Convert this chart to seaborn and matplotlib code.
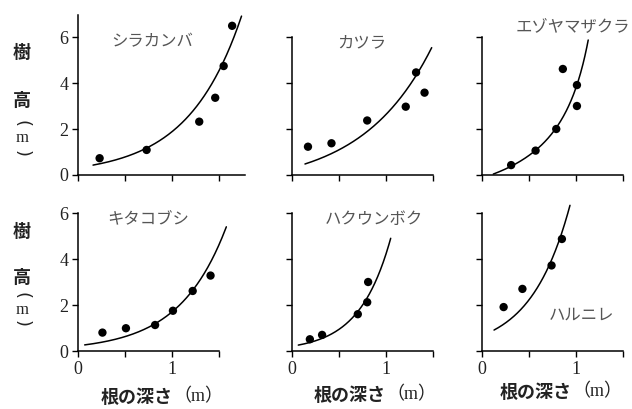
import numpy as np
import matplotlib
matplotlib.use("Agg")
import matplotlib.pyplot as plt
import seaborn as sns

# --- data: root depth (m) vs tree height (m) for six species ---
species = ["シラカンバ", "カツラ", "エゾヤマザクラ", "キタコブシ", "ハクウンボク", "ハルニレ"]

depth_shirakanba = [0.23, 0.73, 1.29, 1.46, 1.55, 1.64]
height_shirakanba = [0.73, 1.09, 2.32, 3.36, 4.74, 6.49]

depth_katsura = [0.17, 0.42, 0.80, 1.21, 1.32, 1.41]
height_katsura = [1.23, 1.38, 2.37, 2.97, 4.46, 3.58]

depth_ezoyamazakura = [0.31, 0.57, 0.79, 0.86, 1.01, 1.01]
height_ezoyamazakura = [0.43, 1.06, 2.00, 4.61, 3.91, 3.00]

depth_kitakobushi = [0.26, 0.51, 0.82, 1.01, 1.22, 1.41]
height_kitakobushi = [0.80, 0.99, 1.13, 1.75, 2.61, 3.28]

depth_hakuunboku = [0.19, 0.32, 0.70, 0.80, 0.81]
height_hakuunboku = [0.51, 0.70, 1.60, 2.12, 3.00]

depth_harunire = [0.23, 0.43, 0.74, 0.85]
height_harunire = [1.91, 2.70, 3.72, 4.87]

depths = [depth_shirakanba, depth_katsura, depth_ezoyamazakura,
          depth_kitakobushi, depth_hakuunboku, depth_harunire]
heights = [height_shirakanba, height_katsura, height_ezoyamazakura,
           height_kitakobushi, height_hakuunboku, height_harunire]

# fitted regression curves: kind, parameters, depth range
fit_kind = ["exp", "exp", "hyp", "exp", "exp", "exp"]
fit_params = [(0.325, 1.757, 0.0), (0.812, 1.35, -0.5), (2.947, 1.5, -2.096),
              (0.23, 2.0, 0.0), (0.21, 3.0, 0.0), (0.67, 2.4, 0.0)]
fit_range = [(0.16, 1.74), (0.138, 1.486), (0.12, 1.13),
             (0.071, 1.578), (0.067, 1.05), (0.128, 0.936)]

x_ticks = [0, 0.5, 1, 1.5]
x_ticklabels = ["0", "", "1", ""]
y_ticks = [0, 2, 4, 6]
y_ticklabels = ["0", "2", "4", "6"]


def fit_curve(kind, p, x):
    if kind == "exp":
        a, b, c = p
        return a * np.exp(b * x) + c
    a, k, c = p
    return a / (k - x) + c


sns.set_theme(style="ticks")
SERIF = ["Liberation Serif", "DejaVu Serif", "Noto Sans CJK JP"]
SERIF_CJK = ["Liberation Serif", "Noto Sans CJK JP"]
GOTHIC = ["Noto Sans CJK JP", "DejaVu Sans"]
plt.rcParams["font.family"] = SERIF

W, H = 632, 409
fig = plt.figure(figsize=(W / 100, H / 100), dpi=100)


def fx(px):
    return px / W


def fy(py):
    return 1 - py / H


# axes boxes in pixels: (left, right, bottom, top), and data limits
boxes = [
    (78, 245, 175, 15, 1.777, 6.96),
    (292, 433, 175, 37, 1.5, 6.0),
    (482, 623, 175, 37, 1.5, 6.0),
    (78, 219, 351, 213, 1.5, 6.0),
    (292, 433, 351, 213, 1.5, 6.0),
    (482, 623, 351, 213, 1.5, 6.0),
]

label_pos = [(152, 42), (362, 43), (573, 27), (148, 220), (374, 219), (582, 315)]

for i, (l, r, b, t, xmax, ymax) in enumerate(boxes):
    ax = fig.add_axes([fx(l), fy(b), (r - l) / W, (b - t) / H])
    ax.set_xlim(0, xmax)
    ax.set_ylim(0, ymax)

    x0, x1 = fit_range[i]
    xs = np.linspace(x0, x1, 200)
    ys = fit_curve(fit_kind[i], fit_params[i], xs)
    sns.lineplot(x=xs, y=ys, ax=ax, color="black", lw=1.1,
                 estimator=None, sort=False, clip_on=False)
    sns.scatterplot(x=depths[i], y=heights[i], ax=ax, color="black",
                    s=36, edgecolor="none", clip_on=False, zorder=3)

    sns.despine(ax=ax)
    for side in ("left", "bottom"):
        ax.spines[side].set_linewidth(1.1)
        ax.spines[side].set_color("black")

    ax.set_xticks(x_ticks)
    ax.set_yticks(y_ticks)
    if i >= 3:
        ax.set_xticklabels(x_ticklabels, family=SERIF)
    else:
        ax.set_xticklabels([])
    if i % 3 == 0:
        ax.set_yticklabels(y_ticklabels, family=SERIF)
    else:
        ax.set_yticklabels([])
    ax.tick_params(direction="out", length=4, width=1.0, color="black",
                   labelsize=13, labelcolor="#222222", pad=3)
    ax.set_xlabel("")
    ax.set_ylabel("")

    lx, ly = label_pos[i]
    fig.text(fx(lx), fy(ly), species[i], ha="center", va="center",
             fontsize=11.8, color="#555555", family=GOTHIC)

# vertical y-axis labels: 樹 / 高 / (m) written top to bottom
for (y_ju, y_ko, y_op, y_m, y_cl) in [(52, 100, 123, 138, 153),
                                       (232, 277, 296, 310, 324)]:
    fig.text(fx(22), fy(y_ju), "樹", ha="center", va="center", fontsize=13,
             fontweight="bold", color="#222222", family=GOTHIC)
    fig.text(fx(22), fy(y_ko), "高", ha="center", va="center", fontsize=13,
             fontweight="bold", color="#222222", family=GOTHIC)
    fig.text(fx(22), fy(y_op), "(", ha="center", va="center", fontsize=13,
             rotation=-90, color="#222222", family=["DejaVu Sans"])
    fig.text(fx(22), fy(y_m), "m", ha="center", va="center", fontsize=12,
             color="#222222", family=SERIF)
    fig.text(fx(22), fy(y_cl), ")", ha="center", va="center", fontsize=13,
             rotation=-90, color="#222222", family=["DejaVu Sans"])

# x-axis labels below the bottom row: bold 根の深さ followed by (m)
for join, cy in [(173, 397), (386, 395), (572, 392)]:
    fig.text(fx(join), fy(cy), "根の深さ", ha="right", va="center",
             fontsize=13, fontweight="bold", color="#222222", family=GOTHIC)
    fig.text(fx(join), fy(cy), "（m）", ha="left", va="center",
             fontsize=13, color="#222222", family=SERIF_CJK)

fig.savefig("out.png", dpi=100)
